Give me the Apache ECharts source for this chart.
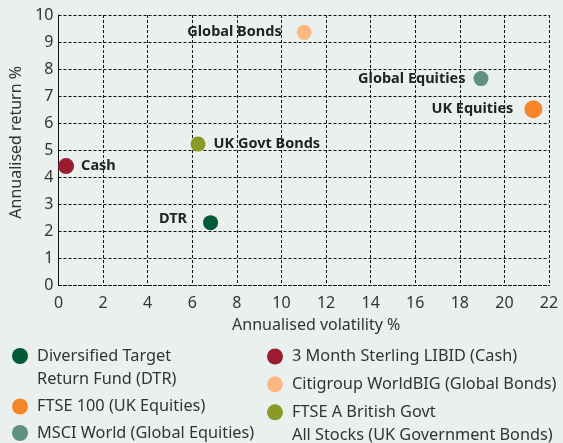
<!DOCTYPE html>
<html>
<head>
<meta charset="utf-8">
<script src="https://cdn.jsdelivr.net/npm/echarts@6/dist/echarts.min.js"></script>
<style>html,body{margin:0;padding:0;background:#EAF0EE;}#c{width:563px;height:443px;}</style>
</head>
<body>
<div id="c"></div>
<script>
// ---- data ----
const names = [
  'Diversified Target\nReturn Fund (DTR)',
  'FTSE 100 (UK Equities)',
  'MSCI World (Global Equities)',
  '3 Month Sterling LIBID (Cash)',
  'Citigroup WorldBIG (Global Bonds)',
  'FTSE A British Govt\nAll Stocks (UK Government Bonds)'
];
const shortLabels = ['DTR', 'UK Equities', 'Global Equities', 'Cash', 'Global Bonds', 'UK Govt Bonds'];
const volatility = [6.82, 21.3, 18.95, 0.34, 11.02, 6.26];
const returns = [2.33, 6.52, 7.65, 4.42, 9.36, 5.23];
const colors = ['#005A36', '#F7862A', '#5F9080', '#9B1B30', '#FDB882', '#8A9A24'];
const xTicks = [0, 2, 4, 6, 8, 10, 12, 14, 16, 18, 20, 22];
const yTicks = [0, 1, 2, 3, 4, 5, 6, 7, 8, 9, 10];

// ---- styling ----
const sizes = [15, 18, 15, 16, 15, 15];
const labelPos = ['left', 'left', 'left', 'right', 'left', 'right'];
const labelDist = [16, 11, 8, 7, 15, 8];
const labelOff = [[0, -4], [0, 0], [0, 0], [0, 0], [0, 0], [0, 0]];
const legendPos = [
  {left: 12, cy: 356, multi: true},
  {left: 12, cy: 406.5},
  {left: 12, cy: 433},
  {left: 267, cy: 356.5},
  {left: 267, cy: 384.3},
  {left: 267, cy: 412.3, multi: true}
];
const FONT = 'Noto Sans';
const LH = 23;

const gridStyle = {show: true, lineStyle: {color: '#111', width: 1, type: [3, 2]}};

const series = names.map((n, i) => ({
  name: n,
  type: 'scatter',
  symbolSize: sizes[i],
  itemStyle: {color: colors[i], opacity: 1},
  data: [[volatility[i], returns[i]]],
  label: {
    show: true,
    position: labelPos[i],
    distance: labelDist[i],
    offset: labelOff[i],
    formatter: shortLabels[i],
    fontFamily: FONT,
    fontWeight: 'bold',
    fontSize: 14.5,
    color: '#222'
  },
  emphasis: {disabled: true}
}));

const legends = names.map((n, i) => {
  const p = legendPos[i];
  const h = p.multi ? LH * 3 : LH;
  return {
    data: [n],
    left: p.left,
    top: p.cy - h / 2,
    padding: 0,
    itemWidth: 16,
    itemHeight: 16,
    icon: 'circle',
    selectedMode: false,
    formatter: p.multi ? (nm => '\n' + nm) : (nm => nm),
    textStyle: {
      fontFamily: FONT,
      fontSize: 16.3,
      color: '#333',
      lineHeight: LH,
      padding: [0, 0, 0, 4]
    }
  };
});

const chart = echarts.init(document.getElementById('c'));
chart.setOption({
  backgroundColor: '#EAF0EE',
  animation: false,
  grid: {left: 58.5, right: 14, top: 15, bottom: 157.3},
  xAxis: {
    type: 'value', min: xTicks[0], max: xTicks[xTicks.length - 1], interval: 2,
    name: 'Annualised volatility %', nameLocation: 'middle', nameGap: 32,
    nameTextStyle: {fontFamily: FONT, fontSize: 16, color: '#333', padding: [0, 0, 0, 25]},
    axisLine: {show: true, lineStyle: {color: '#111', type: [3, 2]}},
    axisTick: {show: false},
    axisLabel: {fontFamily: FONT, fontSize: 16, color: '#333', margin: 10},
    splitLine: gridStyle
  },
  yAxis: {
    type: 'value', min: yTicks[0], max: yTicks[yTicks.length - 1], interval: 1,
    name: 'Annualised return %', nameLocation: 'middle', nameGap: 27,
    nameTextStyle: {fontFamily: FONT, fontSize: 16, color: '#333', padding: [0, 0, 0, 16]},
    axisLine: {show: true, lineStyle: {color: '#111', type: [3, 2]}},
    axisTick: {show: false},
    axisLabel: {fontFamily: FONT, fontSize: 16, color: '#333', margin: 5},
    splitLine: gridStyle
  },
  legend: legends,
  series: series
});
</script>
</body>
</html>
